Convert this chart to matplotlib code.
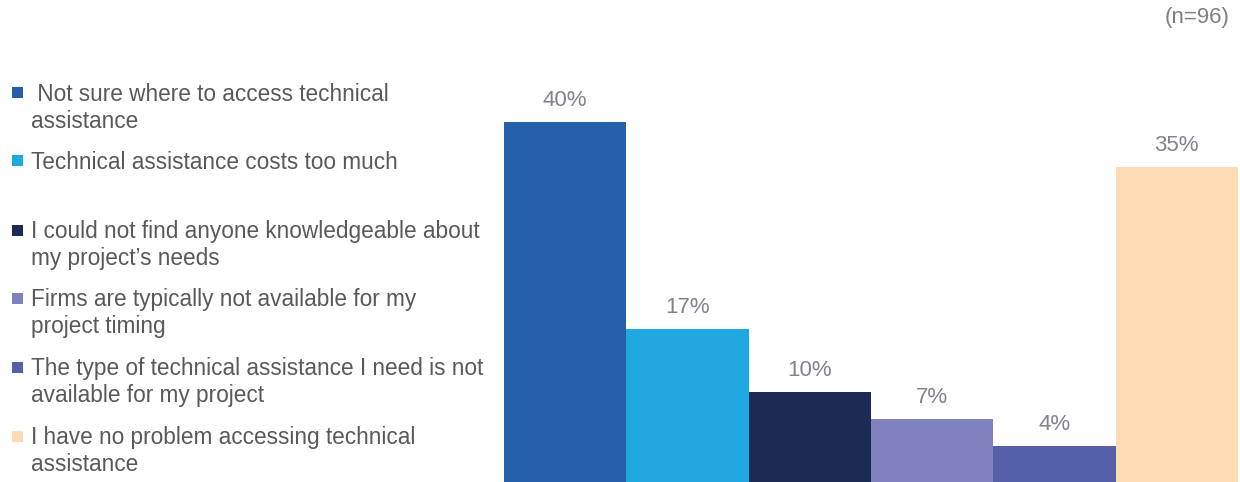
import matplotlib
matplotlib.use("Agg")
import matplotlib.pyplot as plt
from matplotlib.patches import Rectangle

plt.rcParams['font.family'] = ['Liberation Sans', 'DejaVu Sans']

# survey answers and their shares (percent)
reasons = [
    " Not sure where to access technical\nassistance",
    "Technical assistance costs too much",
    "I could not find anyone knowledgeable about\nmy project\u2019s needs",
    "Firms are typically not available for my\nproject timing",
    "The type of technical assistance I need is not\navailable for my project",
    "I have no problem accessing technical\nassistance",
]
shares = [40, 17, 10, 7, 4, 35]
colors = ["#2660ab", "#1fa9e0", "#1b2b55", "#7f82bf", "#5460a8", "#fddcb5"]
sample_note = "(n=96)"

W, H = 1240, 482
fig = plt.figure(figsize=(W / 100, H / 100), dpi=100)

# bar area on the right, bars touching each other
ax = fig.add_axes([504 / W, 0, 734 / W, 1])
xs = range(len(shares))
ax.bar(xs, shares, width=1.0, color=colors, align='center')
ax.set_xlim(-0.5, len(shares) - 0.5)
ax.set_ylim(0, H / 9.0)
ax.axis('off')

for x, v in zip(xs, shares):
    ax.annotate(f"{v}%", (x, v), xytext=(0, 8), textcoords='offset points',
                ha='center', va='bottom', fontsize=16, color='#80828f')

# legend drawn as text rows on the left
row_y = [93, 161, 230, 298, 367, 436]
for label, color, y in zip(reasons, colors, row_y):
    fy = 1 - y / H
    fig.add_artist(Rectangle((12 / W, fy - 5.5 / H), 11 / W, 11 / H,
                             transform=fig.transFigure, color=color, lw=0))
    fig.text(31 / W, 1 - (y - 10) / H, label, ha='left', va='top',
             fontsize=16.3, color='#595959', linespacing=1.2)

fig.text(1230 / W, 1 - 18 / H, sample_note, ha='right', va='center',
         fontsize=16, color='#7f7f7f')

fig.savefig("out.png", dpi=100)
